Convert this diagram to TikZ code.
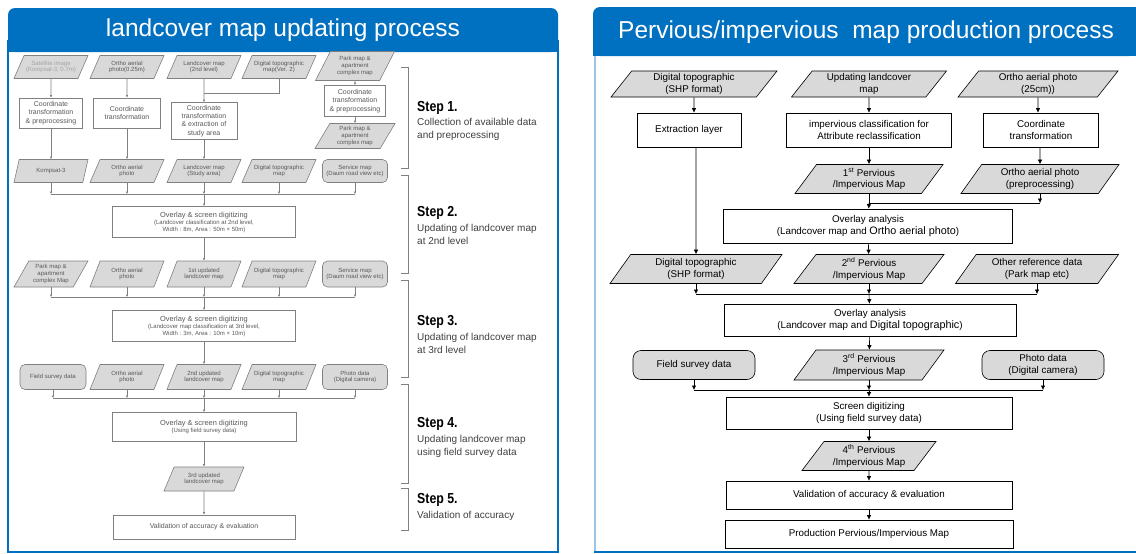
\documentclass[tikz,border=0pt]{standalone}
\usepackage{fontspec}
\setmainfont{Liberation Sans}
\newfontfamily\stepfnt[FakeStretch=0.85]{Liberation Sans}
\usetikzlibrary{shapes.geometric,arrows.meta,positioning}

\definecolor{hdrblue}{HTML}{0070C0}
\definecolor{paleblue}{HTML}{9DC3E6}
\definecolor{fillgray}{HTML}{D9D9D9}
\definecolor{edgegray}{HTML}{808080}
\definecolor{inkgray}{HTML}{595959}

\tikzset{
  paneltitle/.style={text=white, inner sep=0pt, font=\fontsize{24.5}{28}\selectfont},
  % grey chart on the left
  lbase/.style={draw=edgegray, line width=0.6pt, text=inkgray, align=center, inner sep=1pt,
    font=\fontsize{6}{6.8}\selectfont},
  ldata/.style={lbase, trapezium, trapezium left angle=55, trapezium right angle=125,
    trapezium stretches body, fill=fillgray, minimum width=74pt, minimum height=23pt},
  lproc/.style={lbase, rectangle, fill=white, font=\fontsize{7}{8.2}\selectfont},
  lsrc/.style={lbase, rectangle, rounded corners=5pt, fill=fillgray,
    minimum width=65pt, minimum height=23pt},
  lline/.style={draw=edgegray, line width=0.6pt},
  larr/.style={lline, -{Latex[length=2.5pt,width=2.5pt]}},
  bracket/.style={draw=edgegray, line width=0.8pt},
  stephead/.style={anchor=west, inner sep=0pt, font=\stepfnt\bfseries\fontsize{14.5}{16}\selectfont},
  stepdesc/.style={anchor=north west, inner sep=0pt, align=left, text=black!75,
    font=\fontsize{10}{13.5}\selectfont},
  % black chart on the right
  rbase/.style={draw=black, line width=0.6pt, align=center, inner sep=1pt,
    font=\fontsize{9.8}{11.8}\selectfont},
  rdata/.style={rbase, trapezium, trapezium left angle=48, trapezium right angle=132,
    trapezium stretches body, fill=fillgray, minimum height=29pt},
  rproc/.style={rbase, rectangle, fill=white},
  rsrc/.style={rbase, rectangle, rounded corners=8pt, fill=fillgray,
    minimum width=122pt, minimum height=29pt},
  rline/.style={draw=black, line width=0.6pt},
  rarr/.style={rline, -{Latex[length=4.5pt,width=4.5pt]}},
}

\begin{document}
\begin{tikzpicture}[x=1pt,y=-1pt]
\useasboundingbox[fill=white] (0,0) rectangle (1136,554);

% ---------- landcover map updating process ----------
\fill[hdrblue, rounded corners=7pt] (8,8) rectangle (558,52);
\fill[hdrblue] (8,30) rectangle (558,52);
\draw[hdrblue, line width=2.5pt] (8,40) -- (8,552) -- (558,552) -- (558,40);
\node[paneltitle] (ltitle) at (283,30) {landcover map updating process};

% step 1
\node[ldata, text=inkgray!55] (sat) at (51,67) {Satellite image\\(Kompsat-3, 0.7m)};
\node[ldata] (orthoA) at (127,67) {Ortho aerial\\photo(0.25m)};
\node[ldata] (lcA) at (204,67) {Landcover map\\(2nd level)};
\node[ldata] (topoA) at (279,67) {Digital topographic\\map(Ver. 2)};
\node[ldata, minimum width=79pt, minimum height=29pt] (parkA) at (355,66) {Park map \&\\apartment\\complex map};

\node[lproc, minimum width=63pt, minimum height=30pt] (coordA) at (51,113) {Coordinate\\transformation\\\& preprocessing};
\node[lproc, minimum width=67pt, minimum height=30pt] (coordB) at (127,113) {Coordinate\\transformation};
\node[lproc, minimum width=66pt, minimum height=37pt] (coordC) at (204,121) {Coordinate\\transformation\\\& extraction of\\study area};
\node[lproc, minimum width=61pt, minimum height=31pt] (coordD) at (355,101) {Coordinate\\transformation\\\& preprocessing};
\node[ldata, minimum width=80pt, minimum height=25pt] (parkB) at (355,136) {Park map \&\\apartment\\complex map};

\node[ldata] (kompsat) at (51,171) {Kompsat-3};
\node[ldata] (orthoB) at (127,171) {Ortho aerial\\photo};
\node[ldata] (lcB) at (204,171) {Landcover map\\(Study area)};
\node[ldata] (topoB) at (279,171) {Digital topographic\\map};
\node[lsrc] (servA) at (355,171) {Service map\\(Daum road view etc)};

\coordinate (joinA) at (204,93);
\draw[larr] (sat) -- (coordA);
\draw[larr] (orthoA) -- (coordB);
\draw[larr] (lcA) -- (coordC);
\draw[lline] (topoA) |- (joinA);
\draw[larr] (parkA) -- (coordD);
\draw[larr] (coordD) -- (parkB);
\draw[larr] (coordA) -- (kompsat);
\draw[larr] (coordB) -- (orthoB);
\draw[larr] (coordC) -- (lcB);

% step 2
\coordinate (busA) at (204,194);
\foreach \n in {kompsat,orthoB,lcB,topoB,servA}
  \draw[larr] (\n) -- (\n |- busA);
\draw[lline] (kompsat |- busA) -- (servA |- busA);
\node[lproc, font=\fontsize{6}{7}\selectfont, minimum width=183pt, minimum height=31pt] (overA) at (204,222)
  {{\fontsize{7.4}{8.4}\selectfont Overlay \& screen digitizing}\\(Landcover classification at 2nd level,\\Width : 8m, Area : 50m × 50m)};
\draw[larr] (busA) -- (overA);

\node[ldata, minimum height=26pt] (parkC) at (51,274) {Park map \&\\apartment\\complex Map};
\node[ldata, minimum height=26pt] (orthoC) at (127,274) {Ortho aerial\\photo};
\node[ldata, minimum height=26pt] (lcC) at (204,274) {1st updated\\landcover map};
\node[ldata, minimum height=26pt] (topoC) at (279,274) {Digital topographic\\map};
\node[lsrc, minimum height=26pt] (servB) at (355,274) {Service map\\(Daum road view etc)};
\draw[larr] (overA) -- (lcC);

% step 3
\coordinate (busB) at (204,297);
\foreach \n in {parkC,orthoC,lcC,topoC,servB}
  \draw[larr] (\n) -- (\n |- busB);
\draw[lline] (parkC |- busB) -- (servB |- busB);
\node[lproc, font=\fontsize{6}{7}\selectfont, minimum width=183pt, minimum height=31pt] (overB) at (204,326)
  {{\fontsize{7.4}{8.4}\selectfont Overlay \& screen digitizing}\\(Landcover map classification at 3rd level,\\Width : 3m, Area : 10m × 10m)};
\draw[larr] (busB) -- (overB);

\node[lsrc, minimum width=66pt, minimum height=25pt] (fieldA) at (53,377) {Field survey data};
\node[ldata, minimum height=25pt] (orthoD) at (127,377) {Ortho aerial\\photo};
\node[ldata, minimum height=25pt] (lcD) at (204,377) {2nd updated\\landcover map};
\node[ldata, minimum height=25pt] (topoD) at (279,377) {Digital topographic\\map};
\node[lsrc, minimum height=25pt] (photoA) at (355,377) {Photo data\\(Digital camera)};
\draw[larr] (overB) -- (lcD);

% step 4
\coordinate (busC) at (204,398);
\foreach \n in {fieldA,orthoD,lcD,topoD,photoA}
  \draw[larr] (\n) -- (\n |- busC);
\draw[lline] (fieldA |- busC) -- (photoA |- busC);
\node[lproc, font=\fontsize{6}{7}\selectfont, minimum width=184pt, minimum height=29pt] (overC) at (204,427)
  {{\fontsize{7.4}{8.4}\selectfont Overlay \& screen digitizing}\\(Using field survey data)};
\draw[larr] (busC) -- (overC);
\node[ldata, minimum width=80pt, minimum height=24pt] (lcE) at (204,479) {3rd updated\\landcover map};
\draw[larr] (overC) -- (lcE);

% step 5
\node[lproc, minimum width=182pt, minimum height=24pt] (validA) at (204,527) {Validation of accuracy \& evaluation};
\draw[larr] (lcE) -- (validA);

% brackets and step notes
\draw[bracket] (401,67) -| (408,168) -- (401,168);
\draw[bracket] (401,175) -| (408,273) -- (401,273);
\draw[bracket] (401,280) -| (408,377) -- (401,377);
\draw[bracket] (401,384) -| (408,483) -- (401,483);
\draw[bracket] (401,488) -| (408,530) -- (401,530);

\node[stephead] (stepA) at (417,108) {Step 1.};
\node[stepdesc] (descA) at (417,118) {Collection of available data\\and preprocessing};
\node[stephead] (stepB) at (417,213) {Step 2.};
\node[stepdesc] (descB) at (417,224) {Updating of landcover map\\at 2nd level};
\node[stephead] (stepC) at (417,322) {Step 3.};
\node[stepdesc] (descC) at (417,333) {Updating of landcover map\\at 3rd level};
\node[stephead] (stepD) at (417,424) {Step 4.};
\node[stepdesc] (descD) at (417,435) {Updating landcover map\\using field survey data};
\node[stephead] (stepE) at (417,500) {Step 5.};
\node[stepdesc] (descE) at (417,511) {Validation of accuracy};

% ---------- pervious / impervious map production ----------
\fill[hdrblue, rounded corners=7pt] (593,7) rectangle (1136,56);
\fill[hdrblue] (620,7) rectangle (1136,56);
\fill[hdrblue] (593,30) rectangle (1136,56);
\draw[paleblue, line width=2pt] (595,56) -- (595,553);
\draw[hdrblue, line width=2pt] (594,552) -- (1136,552);
\node[paneltitle] (rtitle) at (866,32) {Pervious/impervious\ \ map production\ process};

\node[rdata, minimum width=166pt, minimum height=26pt] (topoP) at (694,84) {Digital topographic\\(SHP format)};
\node[rdata, minimum width=155pt, minimum height=26pt] (updP) at (869,84) {Updating landcover\\map};
\node[rdata, minimum width=160pt, minimum height=26pt] (orthoP) at (1038,84) {Ortho aerial photo\\(25cm))};

\node[rproc, minimum width=104pt, minimum height=34pt] (extrR) at (689,130) {Extraction layer};
\node[rproc, minimum width=165pt, minimum height=34pt] (classR) at (869,130) {impervious classification for\\Attribute reclassification};
\node[rproc, minimum width=115pt, minimum height=34pt] (coordR) at (1041,130) {Coordinate\\transformation};
\draw[rarr] (topoP) -- (topoP |- extrR.north);
\draw[rarr] (updP) -- (classR);
\draw[rarr] (orthoP) -- (orthoP |- coordR.north);

\node[rdata, minimum width=148pt] (firstP) at (869,179) {1\textsuperscript{st} Pervious\\/Impervious Map};
\node[rdata, minimum width=158pt] (prepP) at (1040,179) {Ortho aerial photo\\(preprocessing)};
\draw[rarr] (classR) -- (firstP);
\draw[rarr] (coordR.south -| prepP) -- (prepP);

\coordinate (joinB) at (869,203);
\node[rproc, minimum width=289pt, minimum height=34pt] (overR) at (868,226)
  {Overlay analysis\\(Landcover map and {\fontsize{10.8}{11.8}\selectfont Ortho aerial photo})};
\draw[rline] (firstP) -- (joinB);
\draw[rarr] (prepP) -- (prepP |- joinB);
\draw[rline] (prepP |- joinB) -- (joinB);
\draw[rarr] (joinB) -- (overR);

\node[rdata, minimum width=172pt] (topoQ) at (696,269) {Digital topographic\\(SHP format)};
\node[rdata, minimum width=150pt] (secondP) at (869,269) {2\textsuperscript{nd} Pervious\\/Impervious Map};
\node[rdata, minimum width=163pt] (otherP) at (1037,269) {Other reference data\\(Park map etc)};
\draw[rarr] (extrR.south -| topoQ) -- (topoQ);
\draw[rarr] (overR) -- (secondP);

\coordinate (busR) at (869,294);
\foreach \n in {topoQ,secondP,otherP}
  \draw[rarr] (\n) -- (\n |- busR);
\draw[rline] (topoQ |- busR) -- (otherP |- busR);
\node[rproc, minimum width=292pt, minimum height=32pt] (overS) at (870,320)
  {Overlay analysis\\(Landcover map and {\fontsize{10.8}{11.8}\selectfont Digital topographic})};
\draw[rarr] (busR) -- (overS);

\node[rsrc] (fieldR) at (694,365) {Field survey data};
\node[rdata, minimum width=150pt, minimum height=30pt] (thirdP) at (869,365) {3\textsuperscript{rd} Pervious\\/Impervious Map};
\node[rsrc] (photoR) at (1043,365) {Photo data\\(Digital camera)};
\draw[rarr] (overS) -- (thirdP);

\coordinate (busS) at (869,390);
\foreach \n in {fieldR,thirdP,photoR}
  \draw[rarr] (\n) -- (\n |- busS);
\draw[rline] (fieldR |- busS) -- (photoR |- busS);
\node[rproc, minimum width=286pt, minimum height=32pt] (screenR) at (869,413)
  {Screen digitizing\\(Using field survey data)};
\draw[rarr] (busS) -- (screenR);

\node[rdata, minimum width=134pt, minimum height=29pt] (fourthP) at (869,456) {4\textsuperscript{th} Pervious\\/Impervious Map};
\node[rproc, minimum width=286pt, minimum height=28pt] (validR) at (869,495) {Validation of accuracy \& evaluation};
\node[rproc, minimum width=288pt, minimum height=28pt] (prodR) at (869,534) {Production Pervious/Impervious Map};
\draw[rarr] (screenR) -- (fourthP);
\draw[rarr] (fourthP) -- (validR);
\draw[rarr] (validR) -- (prodR);
\end{tikzpicture}
\end{document}
